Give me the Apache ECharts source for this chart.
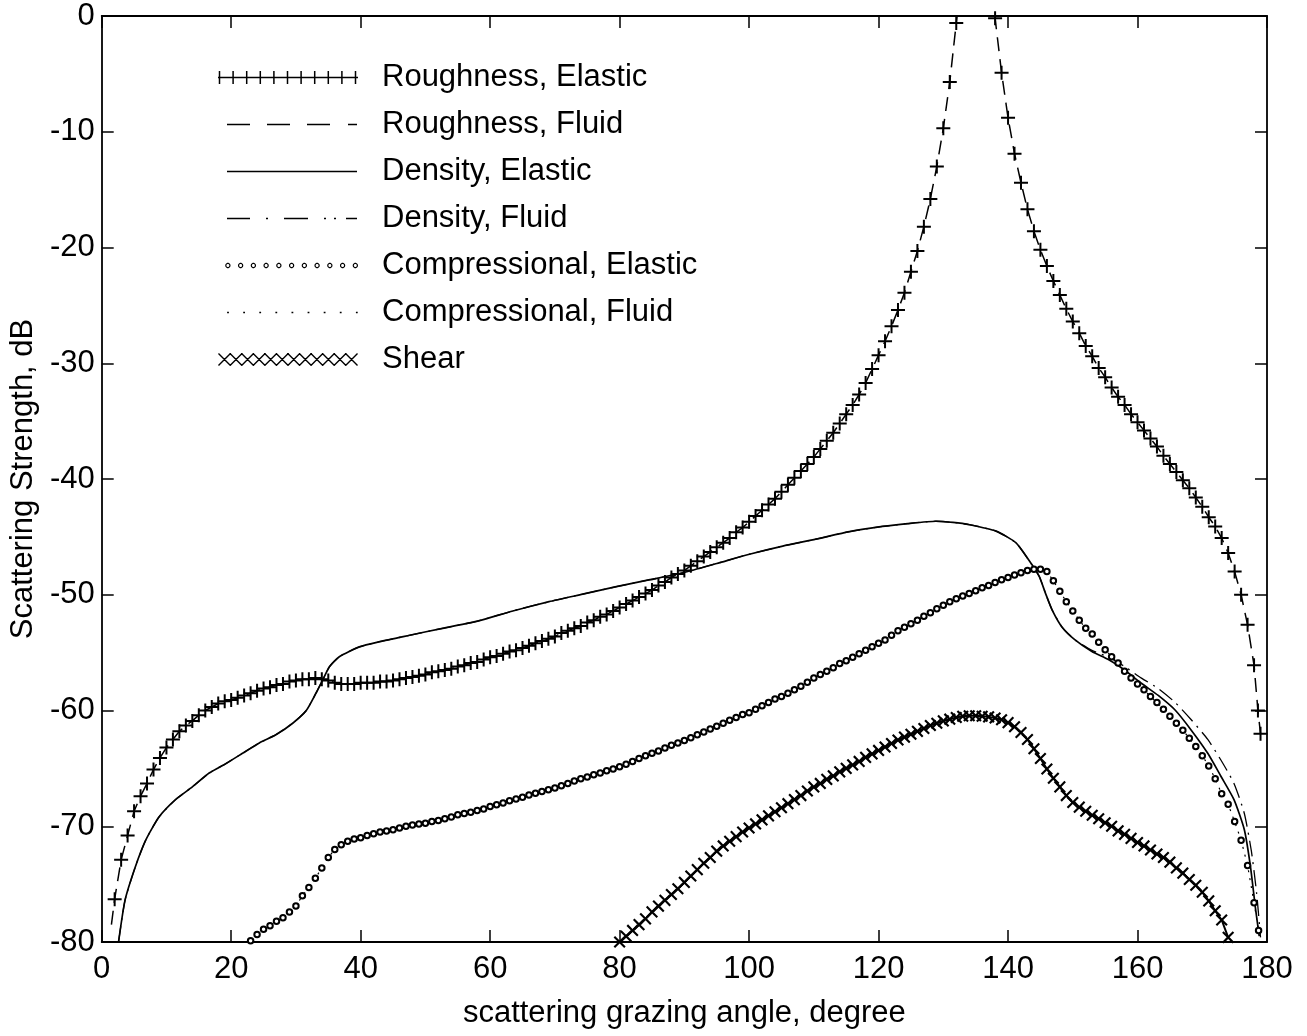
<!DOCTYPE html>
<html>
<head>
<meta charset="utf-8">
<script src="https://cdn.jsdelivr.net/npm/echarts@6/dist/echarts.min.js"></script>
<style>
html,body{margin:0;padding:0;background:#fff;}
#chart{width:1307px;height:1036px;}
</style>
</head>
<body>
<div id="chart"></div>
<script>
// ---------------- data ----------------
const xTicks = [0, 20, 40, 60, 80, 100, 120, 140, 160, 180];
const yTicks = [-80, -70, -60, -50, -40, -30, -20, -10, 0];

const seriesNames = ['Roughness, Elastic', 'Roughness, Fluid', 'Density, Elastic', 'Density, Fluid',
  'Compressional, Elastic', 'Compressional, Fluid', 'Shear'];

const roughnessElastic = [[2,-76.3],[3,-72.9],[4,-70.8],[5,-68.7],[6,-67.4],[7,-66.3],[8,-65.1],[9,-64.1],[10,-63.2],
 [11,-62.5],[12,-61.8],[13,-61.3],[14,-60.9],[15,-60.4],[16,-60.0],[17,-59.7],[18,-59.4],[19,-59.2],[20,-59.1],
 [21,-58.9],[22,-58.7],[23,-58.5],[24,-58.3],[25,-58.1],[26,-58.0],[27,-57.8],[28,-57.7],[29,-57.5],[30,-57.4],
 [31,-57.3],[32,-57.3],[33,-57.2],[34,-57.3],[35,-57.4],[36,-57.6],[37,-57.7],[38,-57.7],[39,-57.7],[40,-57.6],
 [41,-57.6],[42,-57.6],[43,-57.5],[44,-57.5],[45,-57.4],[46,-57.3],[47,-57.2],[48,-57.1],[49,-57.0],[50,-56.9],
 [51,-56.7],[52,-56.6],[53,-56.5],[54,-56.4],[55,-56.2],[56,-56.1],[57,-55.9],[58,-55.8],[59,-55.6],[60,-55.4],
 [61,-55.3],[62,-55.1],[63,-54.9],[64,-54.8],[65,-54.6],[66,-54.4],[67,-54.2],[68,-54.0],[69,-53.8],[70,-53.6],
 [71,-53.3],[72,-53.1],[73,-52.9],[74,-52.7],[75,-52.4],[76,-52.2],[77,-51.9],[78,-51.7],[79,-51.4],[80,-51.1],
 [81,-50.8],[82,-50.5],[83,-50.2],[84,-49.9],[85,-49.6],[86,-49.2],[87,-48.9],[88,-48.5],[89,-48.2],[90,-47.9],
 [91,-47.5],[92,-47.1],[93,-46.7],[94,-46.3],[95,-45.9],[96,-45.5],[97,-45.1],[98,-44.6],[99,-44.2],[100,-43.7],
 [101,-43.2],[102,-42.7],[103,-42.2],[104,-41.7],[105,-41.1],[106,-40.5],[107,-39.9],[108,-39.3],[109,-38.7],[110,-38.1],
 [111,-37.4],[112,-36.7],[113,-36.0],[114,-35.2],[115,-34.4],[116,-33.6],[117,-32.7],[118,-31.7],[119,-30.5],[120,-29.3],
 [121,-28.1],[122,-26.8],[123,-25.4],[124,-23.9],[125,-22.1],[126,-20.3],[127,-18.2],[128,-15.8],[129,-13.0],[130,-9.7],
 [131,-5.7],[132,-0.6],[133,4],[134,8],[135,10],[136,8],[137,4],[138,-0.2],[139,-4.9],[140,-8.8],
 [141,-11.9],[142,-14.4],[143,-16.7],[144,-18.6],[145,-20.2],[146,-21.6],[147,-22.9],[148,-24.1],[149,-25.3],[150,-26.4],
 [151,-27.4],[152,-28.5],[153,-29.4],[154,-30.4],[155,-31.2],[156,-32.1],[157,-32.9],[158,-33.6],[159,-34.4],[160,-35.1],
 [161,-35.8],[162,-36.5],[163,-37.2],[164,-38.0],[165,-38.7],[166,-39.4],[167,-40.1],[168,-40.8],[169,-41.6],[170,-42.4],
 [171,-43.3],[172,-44.1],[173,-45.1],[174,-46.4],[175,-48.0],[176,-50.0],[177,-52.6],[178,-56.1],[178.6,-60.0],[179,-62.0]];

const roughnessFluidStart = [[1.5,-78.5]];

const densityElastic = [[2.6,-80.0],[3.6,-76.4],[5.2,-73.5],[6.8,-71.2],[8.85,-69.2],[11.4,-67.7],[14.0,-66.6],
 [16.6,-65.4],[19.15,-64.6],[21.75,-63.7],[24.35,-62.8],[26.9,-62.1],[29.5,-61.1],[31.6,-60.0],[33.1,-58.5],
 [34.1,-57.4],[35.2,-56.2],[36.7,-55.35],[39.8,-54.5],[42.95,-54.05],[47.55,-53.5],[52.65,-52.9],[57.9,-52.3],
 [63.5,-51.4],[69.1,-50.6],[74.3,-49.95],[79.5,-49.3],[84.7,-48.7],[89.8,-48.1],[95,-47.3],[100.05,-46.5],
 [105.2,-45.8],[110.3,-45.2],[115.5,-44.55],[120.6,-44.1],[124.5,-43.85],[128.85,-43.65],[131.5,-43.75],[134.05,-43.95],
 [138.15,-44.5],[141.2,-45.5],[143.2,-47.0],[144.8,-48.4],[145.8,-49.9],[146.8,-51.3],[148.35,-52.8],[150.35,-53.9],
 [152.95,-54.9],[155.5,-55.6],[158.0,-56.5],[160.6,-57.65],[163.2,-58.7],[165.8,-59.96],[168.3,-61.7],[170.85,-63.7],
 [172.9,-65.7],[174.9,-67.7],[176.5,-70.3],[177.45,-73.5],[178.2,-77.0],[178.8,-79.5]];

// density, fluid departs from density, elastic above 150 degrees
const densityFluidTail = [[152.95,-54.8],[155.5,-55.4],[158.0,-56.2],[160.6,-57.2],[163.2,-58.1],[165.8,-59.3],
 [168.3,-60.8],[170.85,-62.5],[172.9,-64.3],[174.9,-66.3],[176.5,-68.9],[177.6,-72.2],[178.4,-75.8],[179.0,-79.6]];

const compressionalElastic = [[23,-79.9],[24,-79.35],[25,-78.9],[26,-78.6],[27,-78.2],[28,-77.9],[29,-77.4],[30,-76.9],
 [31,-76.0],[32,-75.3],[33,-74.5],[34,-73.6],[35,-72.7],[36,-72.0],[37,-71.6],[38,-71.3],[39,-71.1],[40,-71.0],
 [41,-70.8],[42,-70.65],[43,-70.5],[44,-70.4],[45,-70.3],[46,-70.15],[47,-70.0],[48,-69.9],[49,-69.8],[50,-69.75],
 [51,-69.6],[52,-69.5],[53,-69.35],[54,-69.2],[55,-69.0],[56,-68.9],[57,-68.8],[58,-68.65],[59,-68.5],[60,-68.3],
 [61,-68.15],[62,-68.0],[63,-67.8],[64,-67.65],[65,-67.5],[66,-67.3],[67,-67.15],[68,-67.0],[69,-66.85],[70,-66.7],
 [71,-66.5],[72,-66.3],[73,-66.1],[74,-65.9],[75,-65.75],[76,-65.55],[77,-65.4],[78,-65.2],[79,-65.05],[80,-64.85],
 [81,-64.65],[82,-64.4],[83,-64.15],[84,-63.9],[85,-63.7],[86,-63.5],[87,-63.25],[88,-63.0],[89,-62.8],[90,-62.6],
 [91,-62.35],[92,-62.1],[93,-61.85],[94,-61.6],[95,-61.35],[96,-61.1],[97,-60.85],[98,-60.6],[99,-60.35],[100,-60.2],
 [101,-59.9],[102,-59.6],[103,-59.3],[104,-59.0],[105,-58.8],[106,-58.5],[107,-58.2],[108,-57.9],[109,-57.55],[110,-57.2],
 [111,-56.9],[112,-56.6],[113,-56.3],[114,-55.95],[115,-55.7],[116,-55.4],[117,-55.1],[118,-54.8],[119,-54.5],[120,-54.2],
 [121,-53.9],[122,-53.5],[123,-53.1],[124,-52.8],[125,-52.5],[126,-52.2],[127,-51.85],[128,-51.55],[129,-51.2],[130,-50.9],
 [131,-50.6],[132,-50.35],[133,-50.1],[134,-49.9],[135,-49.65],[136,-49.4],[137,-49.2],[138,-48.95],[139,-48.7],[140,-48.5],
 [141,-48.3],[142,-48.1],[143,-47.9],[144,-47.8],[145,-47.8],[146,-48.0],[147,-48.8],[148,-49.7],[149,-50.6],[150,-51.4],
 [151,-52.2],[152,-52.9],[153,-53.4],[154,-54.1],[155,-54.75],[156,-55.35],[157,-55.9],[158,-56.6],[159,-57.2],[160,-57.7],
 [161,-58.2],[162,-58.8],[163,-59.3],[164,-59.9],[165,-60.5],[166,-61.1],[167,-61.7],[168,-62.4],[169,-63.1],[170,-63.9],
 [171,-64.8],[172,-65.9],[173,-67.2],[174,-68.1],[175,-69.6],[176,-71.2],[177,-73.4],[178,-76.6],[178.7,-79.0]];

const shear = [[80,-80.0],[81,-79.5],[82,-79.0],[83,-78.5],[84,-78.0],[85,-77.4],[86,-76.9],[87,-76.4],[88,-75.9],[89,-75.4],
 [90,-74.85],[91,-74.3],[92,-73.75],[93,-73.2],[94,-72.7],[95,-72.15],[96,-71.7],[97,-71.3],[98,-70.9],[99,-70.5],
 [100,-70.15],[101,-69.8],[102,-69.45],[103,-69.1],[104,-68.75],[105,-68.4],[106,-68.05],[107,-67.7],[108,-67.35],[109,-66.95],
 [110,-66.6],[111,-66.3],[112,-65.95],[113,-65.65],[114,-65.3],[115,-65.0],[116,-64.7],[117,-64.4],[118,-64.05],[119,-63.75],
 [120,-63.45],[121,-63.15],[122,-62.85],[123,-62.55],[124,-62.3],[125,-62.05],[126,-61.8],[127,-61.55],[128,-61.3],[129,-61.1],
 [130,-60.9],[131,-60.75],[132,-60.6],[133,-60.5],[134,-60.45],[135,-60.45],[136,-60.5],[137,-60.55],[138,-60.65],[139,-60.8],
 [140,-61.05],[141,-61.4],[142,-61.9],[143,-62.5],[144,-63.3],[145,-64.15],[146,-65.05],[147,-65.85],[148,-66.6],[149,-67.35],
 [150,-67.95],[151,-68.35],[152,-68.7],[153,-69.05],[154,-69.35],[155,-69.7],[156,-70.0],[157,-70.4],[158,-70.7],[159,-71.05],
 [160,-71.4],[161,-71.7],[162,-72.05],[163,-72.4],[164,-72.7],[165,-73.1],[166,-73.6],[167,-74.05],[168,-74.6],[169,-75.1],
 [170,-75.7],[171,-76.45],[172,-77.3],[173,-78.1],[174,-79.6]];

// ---------------- derived series data ----------------
const roughnessFluid = roughnessFluidStart.concat(roughnessElastic);
const densityFluid = densityElastic.filter(p => p[0] <= 150.5).concat(densityFluidTail);
const compressionalFluid = compressionalElastic;

// ---------------- styling helpers (marker / legend icon shapes) ----------------
const FONT = '"Liberation Sans", Arial, Helvetica, sans-serif';
const FS = 31;
const PLUS = 'path://M6,0H8V6H14V8H8V14H6V8H0V6H6Z';

function rect(x0, y0, x1, y1) { return 'M' + x0 + ',' + y0 + 'H' + x1 + 'V' + y1 + 'H' + x0 + 'Z'; }
function bar(xa, ya, xb, yb, t) {
  const dx = xb - xa, dy = yb - ya, L = Math.sqrt(dx * dx + dy * dy);
  const nx = -dy / L * t / 2, ny = dx / L * t / 2;
  const f = v => v.toFixed(2);
  return 'M' + f(xa + nx) + ',' + f(ya + ny) + 'L' + f(xb + nx) + ',' + f(yb + ny) +
         'L' + f(xb - nx) + ',' + f(yb - ny) + 'L' + f(xa - nx) + ',' + f(ya - ny) + 'Z';
}
function ring(cx, cy, r, w) {
  let s = '', n = 14;
  for (let i = 0; i <= n; i++) { const a = 2 * Math.PI * i / n; s += (i ? 'L' : 'M') + (cx + r * Math.cos(a)).toFixed(2) + ',' + (cy + r * Math.sin(a)).toFixed(2); }
  s += 'Z';
  const ri = r - w;
  for (let i = 0; i <= n; i++) { const a = -2 * Math.PI * i / n; s += (i ? 'L' : 'M') + (cx + ri * Math.cos(a)).toFixed(2) + ',' + (cy + ri * Math.sin(a)).toFixed(2); }
  return s + 'Z';
}
const ANCHOR = 'M0,0M140,14';
function iconRoughElastic() {
  let s = ANCHOR + rect(0, 6.2, 140, 7.8);
  for (let k = 0; k <= 10; k++) { const x = 1.5 + 13.6 * k; s += rect(x - 0.75, 0.5, x + 0.75, 13.5); }
  return 'path://' + s;
}
function iconRoughFluid() {
  return 'path://' + ANCHOR + rect(9, 6.3, 32, 7.7) + rect(49, 6.3, 72, 7.7) + rect(89, 6.3, 112, 7.7) + rect(130, 6.3, 139, 7.7);
}
function iconDensElastic() { return 'path://' + ANCHOR + rect(9, 6.2, 139, 7.8); }
function iconDensFluid() {
  return 'path://' + ANCHOR + rect(9, 6.3, 32, 7.7) + rect(48, 6.3, 50, 7.7) + rect(66, 6.3, 90, 7.7) +
    rect(106, 6.3, 108, 7.7) + rect(116, 6.3, 118, 7.7) + rect(128, 6.3, 139, 7.7);
}
function iconCompElastic() {
  let s = ANCHOR;
  for (let k = 0; k <= 10; k++) s += ring(10 + 12.9 * k, 7, 2.7, 1.2);
  return 'path://' + s;
}
function iconCompFluid() {
  let s = ANCHOR;
  for (let k = 0; k <= 8; k++) { const x = 10 + 16.1 * k; s += rect(x - 0.9, 6.3, x + 0.9, 7.7); }
  return 'path://' + s;
}
function iconShear() {
  let s = ANCHOR;
  for (let k = 0; k <= 11; k++) {
    const x = 6 + 11.6 * k;
    s += bar(x - 6, 1, x + 6, 13, 1.4) + bar(x - 6, 13, x + 6, 1, 1.4);
  }
  return 'path://' + s;
}
const legendIcons = [iconRoughElastic(), iconRoughFluid(), iconDensElastic(), iconDensFluid(),
  iconCompElastic(), iconCompFluid(), iconShear()];

// ---------------- chart ----------------
const chart = echarts.init(document.getElementById('chart'), null, { renderer: 'canvas' });

const axisCommon = {
  type: 'value',
  axisLine: { show: true, onZero: false, lineStyle: { color: '#000', width: 1.8 } },
  axisTick: { show: true, inside: true, length: 12, lineStyle: { color: '#000', width: 1.5 } },
  splitLine: { show: false },
  minorTick: { show: false }
};

const option = {
  backgroundColor: '#fff',
  animation: false,
  grid: { left: 100, right: 40, top: 16, bottom: 94, containLabel: false },
  legend: {
    orient: 'vertical',
    left: 218, top: 62, padding: 0,
    itemWidth: 140, itemHeight: 14, itemGap: 16,
    symbolKeepAspect: false,
    selectedMode: false,
    textStyle: { fontSize: FS, fontFamily: FONT, color: '#000', lineHeight: 30, padding: [0, 0, 0, 19] },
    data: seriesNames.map((n, i) => ({ name: n, icon: legendIcons[i], itemStyle: { color: '#000', borderWidth: 0, opacity: 1 } }))
  },
  xAxis: [
    Object.assign({}, axisCommon, {
      position: 'bottom', min: xTicks[0], max: xTicks[xTicks.length - 1], interval: 20,
      axisLabel: { show: true, fontSize: FS, fontFamily: FONT, color: '#000', margin: 12 },
      name: 'scattering grazing angle, degree', nameLocation: 'middle', nameGap: 56,
      nameTextStyle: { fontSize: FS, fontFamily: FONT, color: '#000' }
    }),
    Object.assign({}, axisCommon, {
      position: 'top', min: xTicks[0], max: xTicks[xTicks.length - 1], interval: 20,
      axisLabel: { show: false }
    })
  ],
  yAxis: [
    Object.assign({}, axisCommon, {
      position: 'left', min: yTicks[0], max: yTicks[yTicks.length - 1], interval: 10,
      axisLabel: { show: true, fontSize: FS, fontFamily: FONT, color: '#000', margin: 7 },
      name: 'Scattering Strength, dB', nameLocation: 'middle', nameGap: 54,
      nameTextStyle: { fontSize: FS, fontFamily: FONT, color: '#000' }
    }),
    Object.assign({}, axisCommon, {
      position: 'right', min: yTicks[0], max: yTicks[yTicks.length - 1], interval: 10,
      axisLabel: { show: false }
    })
  ],
  series: [
    {
      name: seriesNames[0], type: 'line', data: roughnessElastic, z: 5,
      symbol: PLUS, symbolSize: 14, showSymbol: true, showAllSymbol: true,
      itemStyle: { color: '#000', borderWidth: 0 },
      lineStyle: { width: 0, opacity: 0 }, clip: true
    },
    {
      name: seriesNames[1], type: 'line', data: roughnessFluid, z: 4,
      showSymbol: false, symbol: 'none',
      itemStyle: { color: '#000' },
      lineStyle: { color: '#000', width: 1.5, type: [14, 8] }, clip: true
    },
    {
      name: seriesNames[2], type: 'line', data: densityElastic, z: 4,
      showSymbol: false, symbol: 'none', smooth: 0.2,
      itemStyle: { color: '#000' },
      lineStyle: { color: '#000', width: 1.7, type: 'solid' }, clip: true
    },
    {
      name: seriesNames[3], type: 'line', data: densityFluid, z: 3,
      showSymbol: false, symbol: 'none', smooth: 0.2,
      itemStyle: { color: '#000' },
      lineStyle: { color: '#000', width: 1.3, type: [16, 6, 2, 6] }, clip: true
    },
    {
      name: seriesNames[4], type: 'line', data: compressionalElastic, z: 6,
      symbol: 'emptyCircle', symbolSize: 5.5, showSymbol: true, showAllSymbol: true,
      itemStyle: { color: '#000', borderColor: '#000', borderWidth: 1.3 },
      lineStyle: { width: 0, opacity: 0 }, clip: true
    },
    {
      name: seriesNames[5], type: 'line', data: compressionalFluid, z: 3,
      showSymbol: false, symbol: 'none',
      itemStyle: { color: '#000' },
      lineStyle: { color: '#000', width: 1.2, type: [2, 6] }, clip: true
    },
    {
      name: seriesNames[6], type: 'line', data: shear, z: 5,
      symbol: PLUS, symbolSize: 15, symbolRotate: 45, showSymbol: true, showAllSymbol: true,
      itemStyle: { color: '#000', borderWidth: 0 },
      lineStyle: { color: '#000', width: 2 }, clip: true
    }
  ]
};
chart.setOption(option);
</script>
</body>
</html>
